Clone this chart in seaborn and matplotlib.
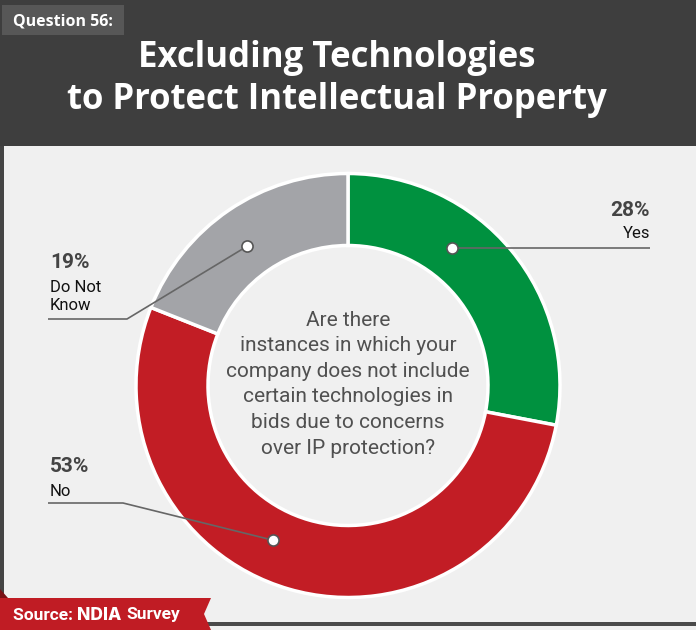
import numpy as np
import matplotlib
matplotlib.use("Agg")
import matplotlib.pyplot as plt
from matplotlib.patches import Rectangle, Polygon
import seaborn as sns

# Survey answers
categories = ["Yes", "No", "Do Not Know"]
shares = [28, 53, 19]
pct_labels = ["28%", "53%", "19%"]
name_labels = ["Yes", "No", "Do Not\nKnow"]

title = "Excluding Technologies\nto Protect Intellectual Property"
question_tag = "Question 56:"
center_question = ("Are there\ninstances in which your\ncompany does not include\n"
                   "certain technologies in\nbids due to concerns\nover IP protection?")

sns.set_theme(style="white")
plt.rcParams["font.family"] = ["Roboto", "DejaVu Sans"]

W, H = 696, 630
fig = plt.figure(figsize=(W / 100, H / 100), dpi=100)
fig.patch.set_facecolor("#f0f0f0")

# background layer in pixel coordinates
bg = fig.add_axes([0, 0, 1, 1], zorder=0)
bg.set_xlim(0, W)
bg.set_ylim(H, 0)
bg.axis("off")
bg.add_patch(Rectangle((0, 0), W, 146, color="#3e3e3e", lw=0))
bg.add_patch(Rectangle((2, 5), 122, 30, color="#575757", lw=0))
bg.add_patch(Rectangle((0, 146), 4, 480, color="#444444", lw=0))
bg.add_patch(Rectangle((0, 622), W, 4, color="#4a4a4a", lw=0))

# donut
CX, CY, R, R_IN = 348, 385.5, 212, 140
pie_ax = fig.add_axes([(CX - R) / W, (H - CY - R) / H, 2 * R / W, 2 * R / H], zorder=1)
palette = sns.color_palette(["#00913f", "#c21d25", "#a3a4a8"])
pie_ax.pie(shares, colors=palette, startangle=90, counterclock=False, radius=1,
           wedgeprops=dict(width=(R - R_IN) / R, edgecolor="white", linewidth=2.5))
pie_ax.set_xlim(-1, 1)
pie_ax.set_ylim(-1, 1)
pie_ax.axis("off")

# overlay: callouts and text
ov = fig.add_axes([0, 0, 1, 1], zorder=2)
ov.set_xlim(0, W)
ov.set_ylim(H, 0)
ov.axis("off")
ov.patch.set_alpha(0)

ov.text(13, 21, question_tag, color="white", fontsize=11.5, fontweight="bold",
        family=["Open Sans", "DejaVu Sans"], va="center", ha="left")
ov.text(337, 79, title, color="white", fontsize=25, fontweight="bold",
        family=["Open Sans", "DejaVu Sans"], ha="center", va="center", linespacing=1.25)

ov.text(CX, 384, center_question, color="#505050", fontsize=15, ha="center",
        va="center", linespacing=1.44)

# callout anchors (angle in degrees, radius in px), elbows and label slots
anchor_angles = [53, -116, 126]
anchor_r = 172
callouts = {
    "Yes": dict(path=[(650, None)], tx=650, ha="right", ypct=211, yname=234),
    "No": dict(path=[(123, 503), (48, 503)], tx=50, ha="left", ypct=467, yname=492),
    "Do Not Know": dict(path=[(127, 319), (48, 319)], tx=50, ha="left", ypct=262, yname=296),
}
for cat, pct, name, ang in zip(categories, pct_labels, name_labels, anchor_angles):
    a = np.deg2rad(ang)
    mx, my = CX + anchor_r * np.cos(a), CY - anchor_r * np.sin(a)
    c = callouts[cat]
    xs, ys = [mx], [my]
    for px, py in c["path"]:
        xs.append(px)
        ys.append(my if py is None else py)
    ov.plot(xs, ys, color="#666666", lw=1.2, solid_capstyle="butt")
    ov.plot(mx, my, "o", ms=8, mfc="white", mec="#555555", mew=1.2)
    ov.text(c["tx"], c["ypct"], pct, ha=c["ha"], va="center", fontsize=15,
            fontweight="bold", color="#444444")
    ov.text(c["tx"], c["yname"], name, ha=c["ha"], va="center", fontsize=12,
            color="#111111", linespacing=1.25)

# source ribbon
ov.add_patch(Polygon([(0, 598), (211, 598), (204, 614), (211, 630), (0, 630)],
                     closed=True, color="#c01c24", lw=0))
ov.add_patch(Polygon([(0, 589), (8, 598), (0, 598)], closed=True, color="#7a1015", lw=0))
t1 = ov.text(13, 615, "Source: ", color="white", fontsize=12.5, fontweight="bold",
             va="center", ha="left")
fig.canvas.draw()
ext = t1.get_window_extent()
x2 = ext.x1
t2 = ov.text(x2, 615, "NDIA", color="white", fontsize=12.5, fontweight="heavy",
             family=["Inter", "DejaVu Sans"], va="center", ha="left")
fig.canvas.draw()
ext2 = t2.get_window_extent()
ov.text(ext2.x1 + 5, 615, "Survey", color="white", fontsize=12.5, fontweight="bold",
        va="center", ha="left")

fig.savefig("out.png", dpi=100, facecolor=fig.get_facecolor())
